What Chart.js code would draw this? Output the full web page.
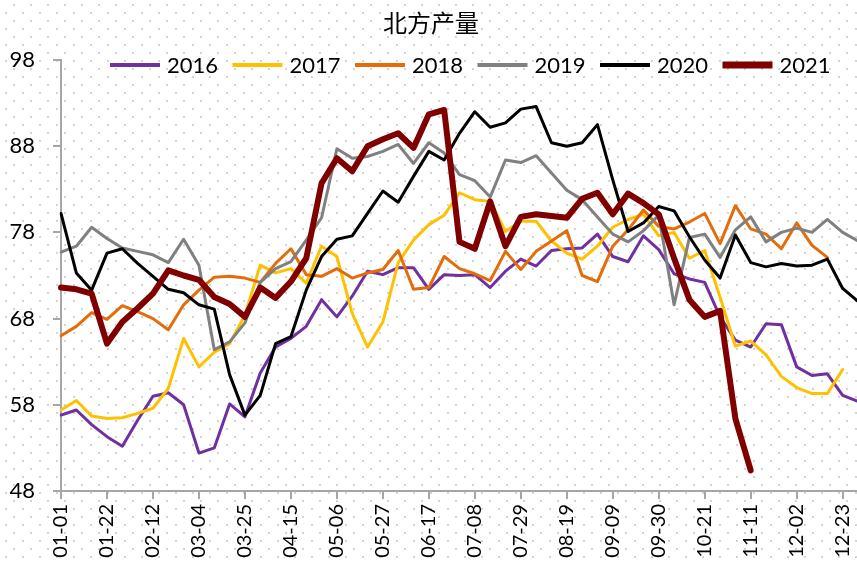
<!DOCTYPE html>
<html>
<head>
<meta charset="utf-8">
<script src="https://cdn.jsdelivr.net/npm/chart.js@4.4.1/dist/chart.umd.min.js"></script>
<style>
  html, body { margin: 0; padding: 0; overflow: hidden; background: #fff; }
  #wrap { position: absolute; left: 0; top: 0; width: 880px; height: 563px; }
</style>
</head>
<body>
<div id="wrap"><canvas id="northChart"></canvas></div>
<script>
const weeks = ['01-01','01-08','01-15','01-22','01-29','02-05','02-12','02-19','02-26','03-04','03-11','03-18','03-25',
  '04-01','04-08','04-15','04-22','04-29','05-06','05-13','05-20','05-27','06-03','06-10','06-17','06-24',
  '07-01','07-08','07-15','07-22','07-29','08-05','08-12','08-19','08-26','09-02','09-09','09-16','09-23','09-30',
  '10-07','10-14','10-21','10-28','11-04','11-11','11-18','11-25','12-02','12-09','12-16','12-23','12-30'];

const y2016 = [56.8, 57.4, 55.7, 54.3, 53.2, 56.2, 59.0, 59.4, 58.0, 52.4, 53.0, 58.1, 56.6,
  61.7, 64.7, 65.7, 67.1, 70.2, 68.2, 70.6, 73.5, 73.1, 73.9, 73.9, 71.4, 73.1,
  73.0, 73.1, 71.6, 73.5, 74.9, 74.1, 75.9, 76.1, 76.2, 77.8, 75.2, 74.6, 77.6, 76.0,
  73.2, 72.6, 72.2, 68.2, 65.5, 64.7, 67.4, 67.3, 62.4, 61.4, 61.6, 59.1, 58.4];
const y2017 = [57.4, 58.5, 56.7, 56.4, 56.5, 57.0, 57.6, 59.9, 65.7, 62.4, 64.1, 65.1, 68.4,
  74.2, 73.3, 73.8, 72.1, 76.4, 75.2, 68.6, 64.7, 67.6, 74.5, 77.1, 78.9, 80.0,
  82.6, 81.8, 81.6, 78.1, 79.3, 79.3, 77.0, 75.6, 74.9, 76.4, 78.6, 79.5, 80.1, 77.6,
  78.0, 75.0, 75.9, 70.5, 64.8, 65.4, 63.8, 61.3, 60.0, 59.3, 59.3, 62.1];
const y2018 = [66.0, 67.1, 68.7, 67.9, 69.5, 68.8, 68.0, 66.7, 69.6, 71.3, 72.8, 72.9, 72.7,
  72.2, 74.4, 76.1, 73.1, 72.9, 73.8, 72.7, 73.3, 73.7, 75.9, 71.4, 71.6, 75.2,
  73.8, 73.2, 72.4, 75.8, 73.7, 75.8, 77.0, 78.2, 73.0, 72.3, 76.4, 78.3, 80.6, 78.7,
  78.4, 79.2, 80.2, 76.7, 81.1, 78.4, 77.8, 76.1, 79.1, 76.5, 75.1];
const y2019 = [75.7, 76.4, 78.6, 77.3, 76.2, 75.8, 75.4, 74.5, 77.2, 74.2, 64.4, 65.3, 67.5,
  72.2, 73.8, 74.6, 77.1, 79.7, 87.7, 86.6, 86.8, 87.4, 88.2, 86.0, 88.4, 87.2,
  84.7, 84.0, 82.1, 86.4, 86.1, 86.9, 84.9, 82.9, 81.8, 79.8, 77.8, 76.9, 78.2, 80.0,
  69.6, 77.4, 77.8, 75.1, 78.3, 79.8, 76.9, 78.0, 78.5, 78.0, 79.5, 78.0, 77.0];
const y2020 = [80.2, 73.3, 71.3, 75.6, 76.1, 74.4, 72.9, 71.4, 71.0, 69.6, 69.1, 61.5, 56.8,
  59.1, 65.1, 65.9, 71.3, 75.2, 77.2, 77.6, 80.2, 82.8, 81.5, 84.5, 87.4, 86.4,
  89.5, 92.0, 90.2, 90.7, 92.3, 92.6, 88.4, 88.0, 88.4, 90.5, 84.1, 78.1, 79.1, 81.0,
  80.5, 77.5, 74.8, 72.7, 77.7, 74.5, 74.0, 74.4, 74.1, 74.2, 74.9, 71.5, 70.0];
const y2021 = [71.6, 71.4, 70.9, 65.1, 67.6, 69.2, 70.9, 73.6, 73.0, 72.5, 70.5, 69.7, 68.2,
  71.6, 70.4, 72.3, 75.0, 83.7, 86.6, 85.1, 88.0, 88.8, 89.5, 87.8, 91.7, 92.2,
  76.9, 76.1, 81.6, 76.4, 79.8, 80.1, 79.9, 79.7, 81.9, 82.6, 80.1, 82.5, 81.4, 80.1,
  75.0, 70.2, 68.2, 68.9, 56.4, 50.4];

// background dots, title and the legend row sit on the canvas like the excel picture
const paperPlugin = {
  id: 'paper',
  beforeDraw(chart) {
    const c = chart.ctx;
    c.save();
    c.fillStyle = '#fff';
    c.fillRect(0, 0, chart.width, chart.height);
    c.fillStyle = '#d4d4d4';
    for (let r = 0; 4 + r * 8 < chart.height; r++) {
      const y = 4 + r * 8;
      for (let x = r % 2 === 0 ? -4 : 5; x < chart.width; x += 17) c.fillRect(x, y, 2, 2);
    }
    c.restore();
  },
  afterDraw(chart) {
    const c = chart.ctx;
    c.save();
    c.fillStyle = '#000';
    c.textBaseline = 'middle';
    c.textAlign = 'center';
    c.font = '24px "Noto Sans CJK SC"';
    c.fillText('北方产量', 431, 23);
    c.textAlign = 'left';
    c.font = '22px Lato';
    chart.data.datasets.forEach((ds, i) => {
      const x = 110 + i * 122.5;
      c.strokeStyle = ds.borderColor;
      c.lineWidth = ds.borderWidth > 4 ? 7 : 4;
      c.beginPath();
      c.moveTo(x, 65);
      c.lineTo(x + 50, 65);
      c.stroke();
      c.fillText(ds.label, x + 57, 66);
    });
    c.restore();
  }
};

new Chart(document.getElementById('northChart'), {
  type: 'line',
  data: {
    labels: weeks,
    datasets: [
      { label: '2016', data: y2016, borderColor: '#7030A0', borderWidth: 3, order: 6 },
      { label: '2017', data: y2017, borderColor: '#FFC000', borderWidth: 3, order: 5 },
      { label: '2018', data: y2018, borderColor: '#E46C0A', borderWidth: 3, order: 4 },
      { label: '2019', data: y2019, borderColor: '#808080', borderWidth: 3, order: 3 },
      { label: '2020', data: y2020, borderColor: '#000000', borderWidth: 3, order: 2 },
      { label: '2021', data: y2021, borderColor: '#800000', borderWidth: 6, order: 1 }
    ]
  },
  options: {
    responsive: true,
    maintainAspectRatio: false,
    animation: false,
    layout: { padding: { top: 60, right: 22, left: 0, bottom: 0 } },
    plugins: {
      legend: { display: false },
      title: { display: false },
      tooltip: { enabled: false }
    },
    elements: {
      point: { radius: 0 },
      line: { tension: 0, borderJoinStyle: 'round', borderCapStyle: 'round' }
    },
    scales: {
      x: {
        grid: {
          drawOnChartArea: false,
          color: ctx => ctx.index % 3 === 0 ? '#a6a6a6' : 'rgba(0,0,0,0)',
          lineWidth: 2,
          tickLength: 8
        },
        border: { color: '#a6a6a6', width: 2 },
        ticks: {
          autoSkip: false,
          maxRotation: 90,
          minRotation: 90,
          padding: 5,
          color: '#000',
          font: { family: 'Lato', size: 20 },
          callback: (v, i) => i % 3 === 0 ? weeks[i] : ''
        },
        afterFit: s => { s.height = 72; s.paddingLeft = 0; s.paddingRight = 0; }
      },
      y: {
        min: 48,
        max: 98,
        grid: { drawOnChartArea: false, color: '#a6a6a6', lineWidth: 2, tickLength: 8 },
        border: { color: '#a6a6a6', width: 2 },
        ticks: { stepSize: 10, padding: 18, color: '#000', font: { family: 'Lato', size: 22 } },
        afterFit: s => { s.width = 61; }
      }
    }
  },
  plugins: [paperPlugin]
});
</script>
</body>
</html>
